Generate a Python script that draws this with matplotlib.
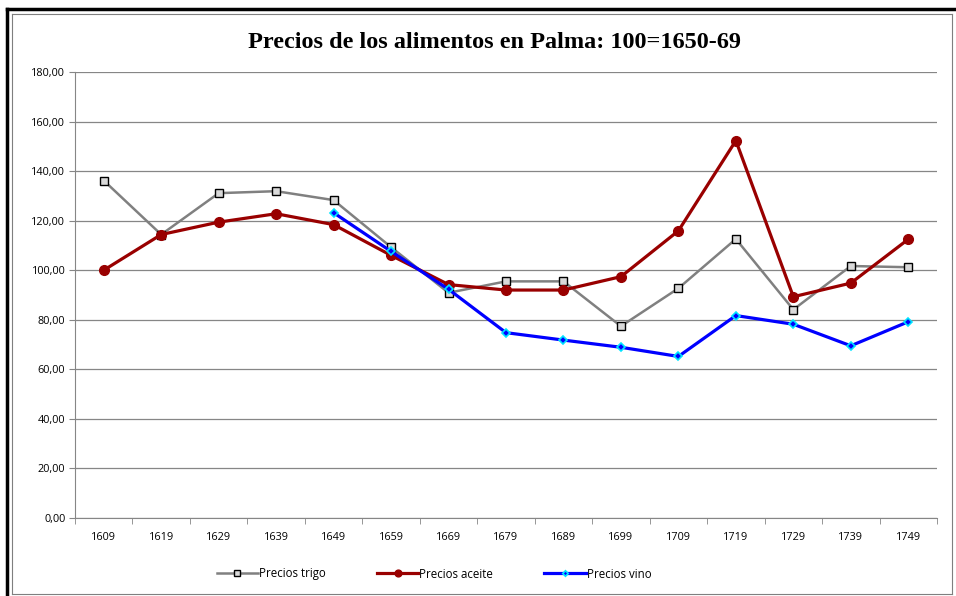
import numpy as np
import matplotlib.pyplot as plt
from matplotlib.lines import Line2D

years = ['1609', '1619', '1629', '1639', '1649', '1659', '1669', '1679',
         '1689', '1699', '1709', '1719', '1729', '1739', '1749']
trigo = [136.2, 114.4, 131.1, 131.9, 128.3, 109.3, 90.9, 95.5,
         95.5, 77.4, 92.7, 112.6, 84.1, 101.7, 101.2]
aceite = [100.0, 114.4, 119.4, 122.8, 118.4, 106.0, 94.2, 92.0,
          92.0, 97.4, 115.9, 152.3, 89.3, 94.8, 112.5]
vino = [np.nan, np.nan, np.nan, np.nan, 123.2, 107.6, 92.3, 74.8,
        71.8, 68.9, 65.2, 81.7, 78.2, 69.5, 79.2]

W, H = 956, 596
fig = plt.figure(figsize=(W / 100, H / 100), dpi=100)
ax = fig.add_axes([75 / W, 1 - 518 / H, (937 - 75) / W, (518 - 72) / H])

x = np.arange(len(years))
ax.plot(x, trigo, color='#808080', lw=1.8, marker='s', ms=6,
        mfc='#d9d9d9', mec='black', mew=1.0, label='Precios trigo', zorder=3)
ax.plot(x, aceite, color='#990000', lw=2.3, marker='o', ms=7,
        mfc='#990000', mec='#990000', label='Precios aceite', zorder=4)
ax.plot(x, vino, color='#0000ff', lw=2.3, marker='D', ms=4,
        mfc='#0000ff', mec='#00e5ff', mew=1.2, label='Precios vino', zorder=5)

ax.set_xlim(-0.5, len(years) - 0.5)
ax.set_ylim(0, 180)
yt = np.arange(0, 181, 20)
ax.set_yticks(yt)
ax.set_yticklabels([('%.2f' % v).replace('.', ',') for v in yt])
ax.set_xticks(x)
ax.set_xticklabels(years)
ax.set_xticks(np.arange(-0.5, len(years), 1), minor=True)
ax.tick_params(axis='x', which='major', length=0, pad=10)
ax.tick_params(axis='x', which='minor', length=4, color='#868686', direction='out')
ax.tick_params(axis='y', length=4, color='#868686', pad=3)
ax.tick_params(labelsize=7.8, labelcolor='black')
for lab in ax.get_xticklabels() + ax.get_yticklabels():
    lab.set_family('Open Sans')

ax.grid(axis='y', color='#868686', lw=0.9)
ax.set_axisbelow(True)
for s in ['top', 'right']:
    ax.spines[s].set_visible(False)
ax.spines['left'].set_color('#868686')
ax.spines['bottom'].set_color('#868686')

fig.text(494 / W, 1 - 43 / H, 'Precios de los alimentos en Palma: 100=1650-69',
         ha='center', va='center', fontsize=17.5, fontweight='bold',
         family='Liberation Serif')

leg = fig.legend(loc='center', bbox_to_anchor=(434 / W, 1 - 574 / H), ncol=3,
                 frameon=False, handlelength=3.6, markerscale=0.7,
                 columnspacing=4.4, handletextpad=0.1,
                 prop={'family': 'Open Sans', 'size': 8.3})

# chart frame
def fl(x0, y0, x1, y1, **kw):
    fig.add_artist(Line2D([x0 / W, x1 / W], [1 - y0 / H, 1 - y1 / H], **kw))

fl(7, 9, 956, 9, color='black', lw=2.5)
fl(7, 9, 7, 596, color='black', lw=2.5)
fl(12, 14, 952, 14, color='#7f7f7f', lw=0.8)
fl(12, 14, 12, 594, color='#7f7f7f', lw=0.8)
fl(12, 594, 952, 594, color='#7f7f7f', lw=0.8)
fl(952, 14, 952, 594, color='#7f7f7f', lw=0.8)

fig.savefig('out.png', dpi=100)
